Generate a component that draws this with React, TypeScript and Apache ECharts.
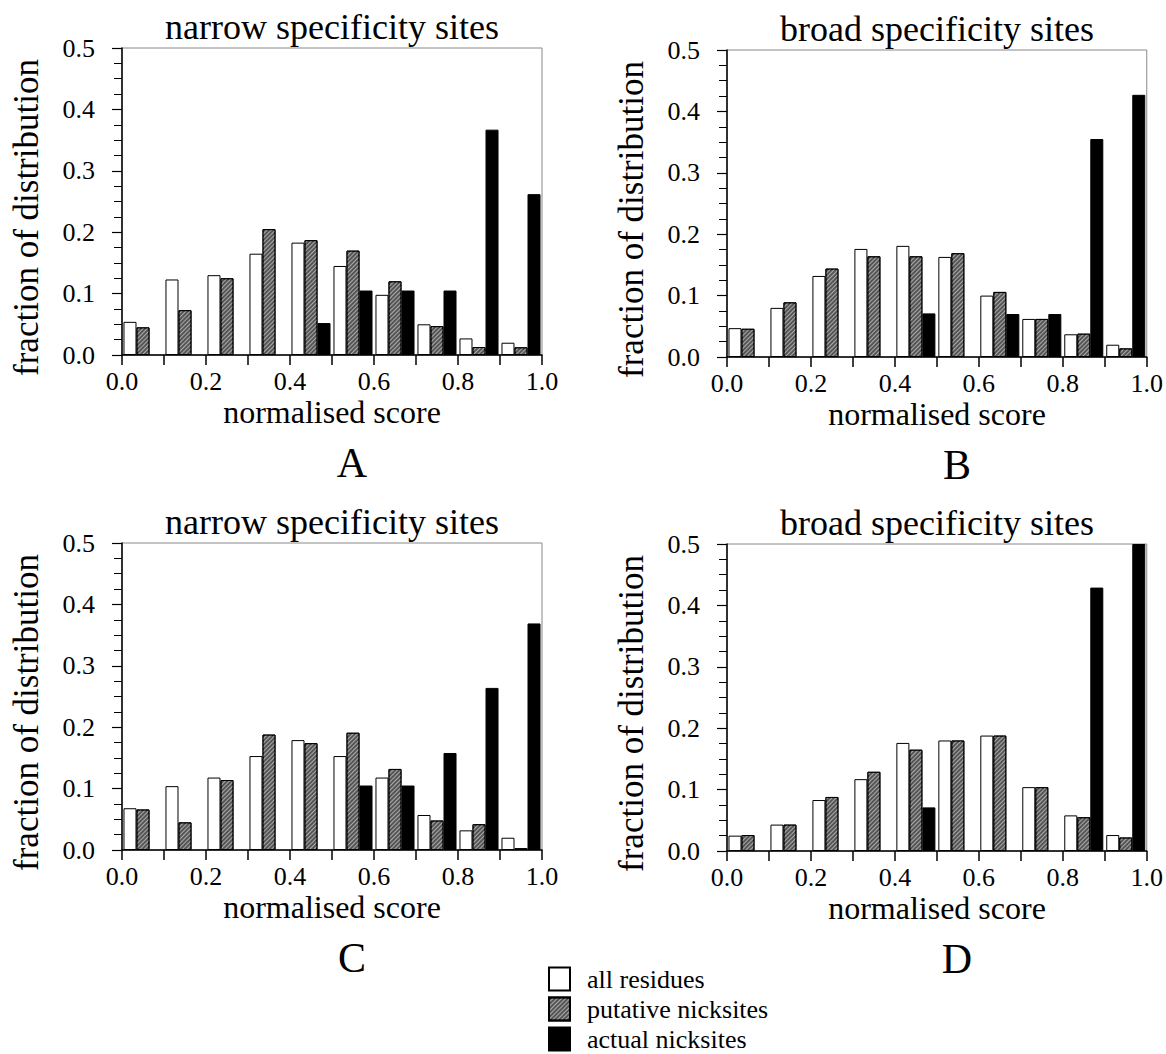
import React, { useEffect, useRef } from "react";
import * as echarts from "echarts";

const bins = ["0.0-0.1", "0.1-0.2", "0.2-0.3", "0.3-0.4", "0.4-0.5", "0.5-0.6", "0.6-0.7", "0.7-0.8", "0.8-0.9", "0.9-1.0"];

const A_all = [0.054, 0.123, 0.130, 0.165, 0.183, 0.145, 0.098, 0.050, 0.027, 0.020];
const A_put = [0.045, 0.073, 0.125, 0.205, 0.187, 0.170, 0.120, 0.047, 0.013, 0.0125];
const A_act = [null, null, null, null, 0.052, 0.105, 0.105, 0.105, 0.367, 0.262];

const B_all = [0.047, 0.080, 0.132, 0.176, 0.181, 0.163, 0.100, 0.062, 0.037, 0.020];
const B_put = [0.046, 0.089, 0.144, 0.164, 0.164, 0.169, 0.106, 0.062, 0.038, 0.014];
const B_act = [null, null, null, null, 0.071, null, 0.070, 0.070, 0.355, 0.427];

const C_all = [0.068, 0.104, 0.118, 0.153, 0.179, 0.153, 0.118, 0.057, 0.032, 0.020];
const C_put = [0.066, 0.045, 0.114, 0.188, 0.174, 0.191, 0.132, 0.048, 0.042, 0.003];
const C_act = [null, null, null, null, null, 0.105, 0.105, 0.158, 0.264, 0.369];

const D_all = [0.025, 0.043, 0.083, 0.117, 0.176, 0.180, 0.188, 0.104, 0.058, 0.026];
const D_put = [0.026, 0.043, 0.088, 0.129, 0.165, 0.180, 0.188, 0.104, 0.055, 0.022];
const D_act = [null, null, null, null, 0.071, null, null, null, 0.429, 0.5];

const titles = ["narrow specificity sites", "broad specificity sites", "narrow specificity sites", "broad specificity sites"];
const letters = ["A", "B", "C", "D"];
const seriesNames = ["all residues", "putative nicksites", "actual nicksites"];

const FONT = "Liberation Serif, serif";

export default function App() {
  const ref = useRef<HTMLDivElement>(null);
  useEffect(() => {
    if (!ref.current) return;
    const chart = echarts.init(ref.current, undefined, { renderer: "svg" });
    const panels = [
      { data: [A_all, A_put, A_act], left: 122, top: 48 },
      { data: [B_all, B_put, B_act], left: 727, top: 50 },
      { data: [C_all, C_put, C_act], left: 122, top: 543 },
      { data: [D_all, D_put, D_act], left: 727, top: 544 },
    ];
    const W = 420, H = 307;
    const grids: any[] = [];
    const xAxes: any[] = [];
    const yAxes: any[] = [];
    const series: any[] = [];
    const graphics: any[] = [];
    const hatch = {
      symbol: "rect",
      symbolSize: 1,
      dashArrayX: [1, 0],
      dashArrayY: [1, 2],
      rotation: -Math.PI / 4,
      color: "rgba(255,255,255,0.5)",
    };
    const styles = [
      { color: "#ffffff", borderColor: "#000", borderWidth: 1 },
      { color: "#555555", borderColor: "#000", borderWidth: 1, decal: hatch },
      { color: "#000000", borderColor: "#000", borderWidth: 1 },
    ];
    panels.forEach((p, i) => {
      grids.push({
        left: p.left, top: p.top, width: W, height: H,
        show: true, borderColor: "#888", borderWidth: 1, backgroundColor: "transparent",
      });
      xAxes.push({
        type: "category", gridIndex: i, data: bins, show: false, boundaryGap: true,
      });
      xAxes.push({
        type: "value", gridIndex: i, position: "bottom", min: 0, max: 1, interval: 0.1,
        axisLine: { show: true, onZero: false, lineStyle: { color: "#000", width: 1.5 } },
        axisTick: { show: true, inside: false, length: 10, lineStyle: { color: "#000", width: 1.5 } },
        splitLine: { show: false },
        axisLabel: {
          margin: 13, fontFamily: FONT, fontSize: 26, color: "#000",
          formatter: (v: number) => (Math.round(v * 10) % 2 === 0 ? v.toFixed(1) : ""),
        },
      });
      yAxes.push({
        type: "value", gridIndex: i, min: 0, max: 0.5, interval: 0.1,
        axisLine: { show: true, onZero: false, lineStyle: { color: "#000", width: 1.5 } },
        axisTick: { show: true, inside: false, length: 10, lineStyle: { color: "#000", width: 1.2 } },
        minorTick: { show: true, splitNumber: 4, length: 8, lineStyle: { color: "#000", width: 1 } },
        splitLine: { show: false },
        minorSplitLine: { show: false },
        axisLabel: {
          margin: 27, fontFamily: FONT, fontSize: 26, color: "#000",
          formatter: (v: number) => v.toFixed(1),
        },
      });
      p.data.forEach((d, k) => {
        series.push({
          type: "bar",
          name: seriesNames[k],
          xAxisIndex: i * 2,
          yAxisIndex: i,
          data: d,
          barGap: "0%",
          barCategoryGap: "7%",
          itemStyle: styles[k],
          emphasis: { disabled: true },
        });
      });
      const cx = p.left + W / 2;
      graphics.push({
        type: "text", x: cx, y: p.top - 21,
        style: { text: titles[i], fontFamily: FONT, fontSize: 36, fill: "#000", align: "center", verticalAlign: "middle" },
      });
      graphics.push({
        type: "text", x: cx, y: p.top + H + 57,
        style: { text: "normalised score", fontFamily: FONT, fontSize: 32, fill: "#000", align: "center", verticalAlign: "middle" },
      });
      graphics.push({
        type: "text", x: p.left - 96, y: p.top + H / 2 + 16, rotation: Math.PI / 2,
        style: { text: "fraction of distribution", fontFamily: FONT, fontSize: 35, fill: "#000", align: "center", verticalAlign: "middle" },
      });
      graphics.push({
        type: "text", x: cx + 20, y: p.top + H + 108,
        style: { text: letters[i], fontFamily: FONT, fontSize: 42, fill: "#000", align: "center", verticalAlign: "middle" },
      });
    });

    const legendTops = [966, 996, 1026];
    const legends = seriesNames.map((n, k) => ({
      data: [n],
      orient: "vertical",
      left: 548,
      top: legendTops[k],
      padding: 0,
      itemWidth: 21,
      itemHeight: 23,
      icon: "rect",
      selectedMode: false,
      textStyle: { fontFamily: FONT, fontSize: 26, color: "#000", padding: [0, 0, 0, 12] },
    }));

    chart.setOption({
      animation: false,
      backgroundColor: "#fff",
      grid: grids,
      xAxis: xAxes,
      yAxis: yAxes,
      series,
      legend: legends,
      graphic: graphics,
    });
    return () => chart.dispose();
  }, []);
  return (
    <div
      ref={ref}
      style={{ position: "absolute", left: 0, top: 0, width: 1166, height: 1054 }}
    />
  );
}
